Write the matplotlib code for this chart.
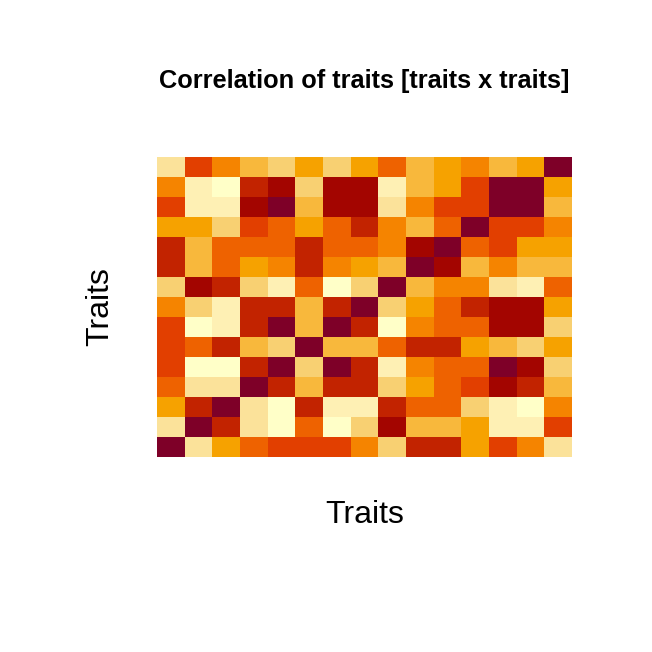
import numpy as np
import matplotlib
matplotlib.use("Agg")
import matplotlib.pyplot as plt
from matplotlib.colors import ListedColormap, BoundaryNorm

# Level of each cell (0 = weakest, 11 = strongest correlation); rows listed top to bottom
levels = [
    [2, 8, 6, 4, 3, 5, 3, 5, 7, 4, 5, 6, 4, 5, 11],
    [6, 1, 0, 9, 10, 3, 10, 10, 1, 4, 5, 8, 11, 11, 5],
    [8, 1, 1, 10, 11, 4, 10, 10, 2, 6, 8, 8, 11, 11, 4],
    [5, 5, 3, 8, 7, 5, 7, 9, 6, 4, 7, 11, 8, 8, 6],
    [9, 4, 7, 7, 7, 9, 7, 7, 6, 10, 11, 7, 8, 5, 5],
    [9, 4, 7, 5, 6, 9, 6, 5, 4, 11, 10, 4, 6, 4, 4],
    [3, 10, 9, 3, 1, 7, 0, 3, 11, 4, 6, 6, 2, 1, 7],
    [6, 3, 1, 9, 9, 4, 9, 11, 3, 5, 7, 9, 10, 10, 5],
    [8, 0, 1, 9, 11, 4, 11, 9, 0, 6, 7, 7, 10, 10, 3],
    [8, 7, 9, 4, 3, 11, 4, 4, 7, 9, 9, 5, 4, 3, 5],
    [8, 0, 0, 9, 11, 3, 11, 9, 1, 6, 7, 7, 11, 10, 3],
    [7, 2, 2, 11, 9, 4, 9, 9, 3, 5, 7, 8, 10, 9, 4],
    [5, 9, 11, 2, 0, 9, 1, 1, 9, 7, 7, 3, 1, 0, 6],
    [2, 11, 9, 2, 0, 7, 0, 3, 10, 4, 4, 5, 1, 1, 8],
    [11, 2, 5, 7, 8, 8, 8, 6, 3, 9, 9, 5, 8, 6, 2],
]

palette = ["#FFFFC8", "#FEF0B4", "#FBE29A", "#F8D072", "#F8B83C", "#F6A200",
           "#F58400", "#EE6200", "#E23F00", "#C22300", "#A30500", "#7E0028"]

title_text = "Correlation of traits [traits x traits]"
xlabel_text = "Traits"
ylabel_text = "Traits"

cmap = ListedColormap(palette)
norm = BoundaryNorm(np.arange(-0.5, len(palette) + 0.5, 1), len(palette))

fig = plt.figure(figsize=(6.52, 6.52), dpi=100)
W = H = 652
ax = fig.add_axes([157 / W, 1 - 457 / H, 415 / W, 300 / H])
data = np.array(levels)
ax.pcolormesh(np.arange(data.shape[1] + 1), np.arange(data.shape[0] + 1),
              data[::-1], cmap=cmap, norm=norm)
ax.set_xlim(0, data.shape[1])
ax.set_ylim(0, data.shape[0])
ax.axis("off")

fig.text(364.5 / W, 1 - 81 / H, title_text, ha="center", va="center",
         fontsize=18.3, fontweight="bold", family="Liberation Sans")
fig.text(364.5 / W, 1 - 515 / H, xlabel_text, ha="center", va="center",
         fontsize=23, family="Liberation Sans")
fig.text(100 / W, 1 - 307 / H, ylabel_text, ha="center", va="center",
         fontsize=23, rotation=90, family="Liberation Sans")

fig.savefig("out.png", dpi=100, facecolor="white")
